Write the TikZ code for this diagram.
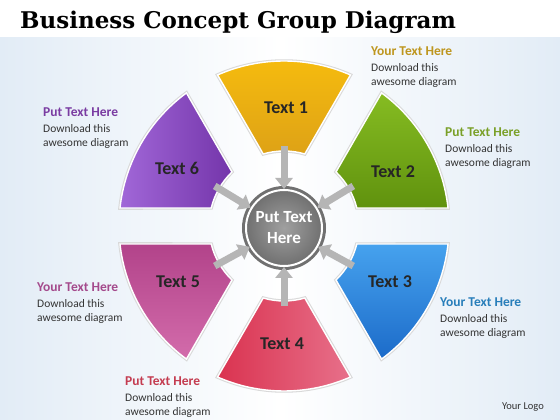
\documentclass[tikz,border=0pt]{standalone}
\usepackage{fontspec}
\setmainfont{Carlito}
\newfontfamily\titlefont{DejaVu Serif}
\usetikzlibrary{arrows.meta}

\definecolor{bgblue}{RGB}{226,236,246}
\definecolor{ringgray}{RGB}{112,112,112}
\definecolor{hubin}{RGB}{160,160,160}
\definecolor{hubout}{RGB}{112,112,112}
\definecolor{yelA}{RGB}{246,188,14}
\definecolor{yelB}{RGB}{222,162,22}
\definecolor{grnA}{RGB}{134,188,34}
\definecolor{grnB}{RGB}{96,146,14}
\definecolor{bluA}{RGB}{70,162,238}
\definecolor{bluB}{RGB}{28,107,201}
\definecolor{redA}{RGB}{218,51,80}
\definecolor{redB}{RGB}{231,112,138}
\definecolor{magA}{RGB}{178,67,138}
\definecolor{magB}{RGB}{211,108,171}
\definecolor{purA}{RGB}{161,103,216}
\definecolor{purB}{RGB}{116,53,170}
\definecolor{headyel}{RGB}{190,150,30}
\definecolor{headgrn}{RGB}{122,160,40}
\definecolor{headblu}{RGB}{40,126,186}
\definecolor{headred}{RGB}{196,60,80}
\definecolor{headmag}{RGB}{164,74,140}
\definecolor{headpur}{RGB}{122,60,162}

% one ring piece, #1 = middle angle, #2 = colours
\newcommand{\petal}[2]{%
  \path[draw=black!15, line width=3.5pt]
    (#1-23.74:165pt) arc[start angle=#1-23.74, end angle=#1+23.74, radius=165pt]
    -- (#1+16.1:75pt) arc[start angle=#1+16.1, end angle=#1-16.1, radius=75pt] -- cycle;
  \path[draw=white, line width=1.4pt, #2]
    (#1-23.74:165pt) arc[start angle=#1-23.74, end angle=#1+23.74, radius=165pt]
    -- (#1+16.1:75pt) arc[start angle=#1+16.1, end angle=#1-16.1, radius=75pt] -- cycle;}

\begin{document}
\begin{tikzpicture}[x=1pt, y=1pt,
    petaltxt/.style={font=\bfseries\fontsize{18}{18}\selectfont, text=black!85},
    infotxt/.style={anchor=north west, inner sep=0pt, align=left,
      font=\fontsize{11.5}{13.5}\selectfont, text=black!80},
    feed/.style={-{Triangle[width=17pt, length=11pt]}, line width=7pt, draw=gray!58},
    hub/.style={circle, minimum size=76pt, inner sep=0pt,
      inner color=hubin, outer color=hubout, draw=white, line width=2pt,
      preaction={draw=ringgray, line width=8pt},
      text=white, align=center, font=\bfseries\fontsize{17}{21}\selectfont}]
  \useasboundingbox (0,0) rectangle (560,420);
  % Fondo
  \fill[white] (0,0) rectangle (560,420);
  \shade[left color=bgblue, right color=bgblue, middle color=white] (0,0) rectangle (560,382);

  % Titulo
  \node[anchor=base west, inner sep=0pt, font=\titlefont\bfseries\fontsize{23}{23}\selectfont]
    (title) at (20,391) {Business Concept Group Diagram};

  % Piezas
  \begin{scope}[shift={(284,194)}]
    \petal{90}{top color=yelA, bottom color=yelB}
    \petal{30}{top color=grnA, bottom color=grnB}
    \petal{-30}{top color=bluA, bottom color=bluB}
    \petal{-90}{left color=redA, right color=redB}
    \petal{210}{top color=magA, bottom color=magB}
    \petal{150}{left color=purA, right color=purB}
    \coordinate (a1) at (90:80pt);
    \coordinate (a2) at (30:80pt);
    \coordinate (a3) at (-30:80pt);
    \coordinate (a4) at (-90:80pt);
    \coordinate (a5) at (210:80pt);
    \coordinate (a6) at (150:80pt);
  \end{scope}

  % Centro
  \node[hub] (hub) at (284,192) {Put Text\\Here};

  % Flechas
  \draw[feed] (a1) -- (hub);
  \draw[feed] (a2) -- (hub);
  \draw[feed] (a3) -- (hub);
  \draw[feed] (a4) -- (hub);
  \draw[feed] (a5) -- (hub);
  \draw[feed] (a6) -- (hub);

  % Etiquetas
  \node[petaltxt] (t1) at (286,312) {Text 1};
  \node[petaltxt] (t2) at (393,248) {Text 2};
  \node[petaltxt] (t3) at (390,138) {Text 3};
  \node[petaltxt] (t4) at (282,76) {Text 4};
  \node[petaltxt] (t5) at (178,138) {Text 5};
  \node[petaltxt] (t6) at (177,252) {Text 6};

  % Textos
  \node[infotxt] (i1) at (371,373) {{\color{headyel}\bfseries\fontsize{13.5}{16}\selectfont Your Text Here}\\[2.5pt]Download this\\awesome diagram};
  \node[infotxt] (i2) at (445,292) {{\color{headgrn}\bfseries\fontsize{13.5}{16}\selectfont Put Text Here}\\[2.5pt]Download this\\awesome diagram};
  \node[infotxt] (i3) at (440,122) {{\color{headblu}\bfseries\fontsize{13.5}{16}\selectfont Your Text Here}\\[2.5pt]Download this\\awesome diagram};
  \node[infotxt] (i4) at (125,43) {{\color{headred}\bfseries\fontsize{13.5}{16}\selectfont Put Text Here}\\[2.5pt]Download this\\awesome diagram};
  \node[infotxt] (i5) at (37,137) {{\color{headmag}\bfseries\fontsize{13.5}{16}\selectfont Your Text Here}\\[2.5pt]Download this\\awesome diagram};
  \node[infotxt] (i6) at (43,312) {{\color{headpur}\bfseries\fontsize{13.5}{16}\selectfont Put Text Here}\\[2.5pt]Download this\\awesome diagram};

  \node[font=\fontsize{10.5}{12}\selectfont, text=black!80] (logo) at (523,13) {Your Logo};
\end{tikzpicture}
\end{document}
